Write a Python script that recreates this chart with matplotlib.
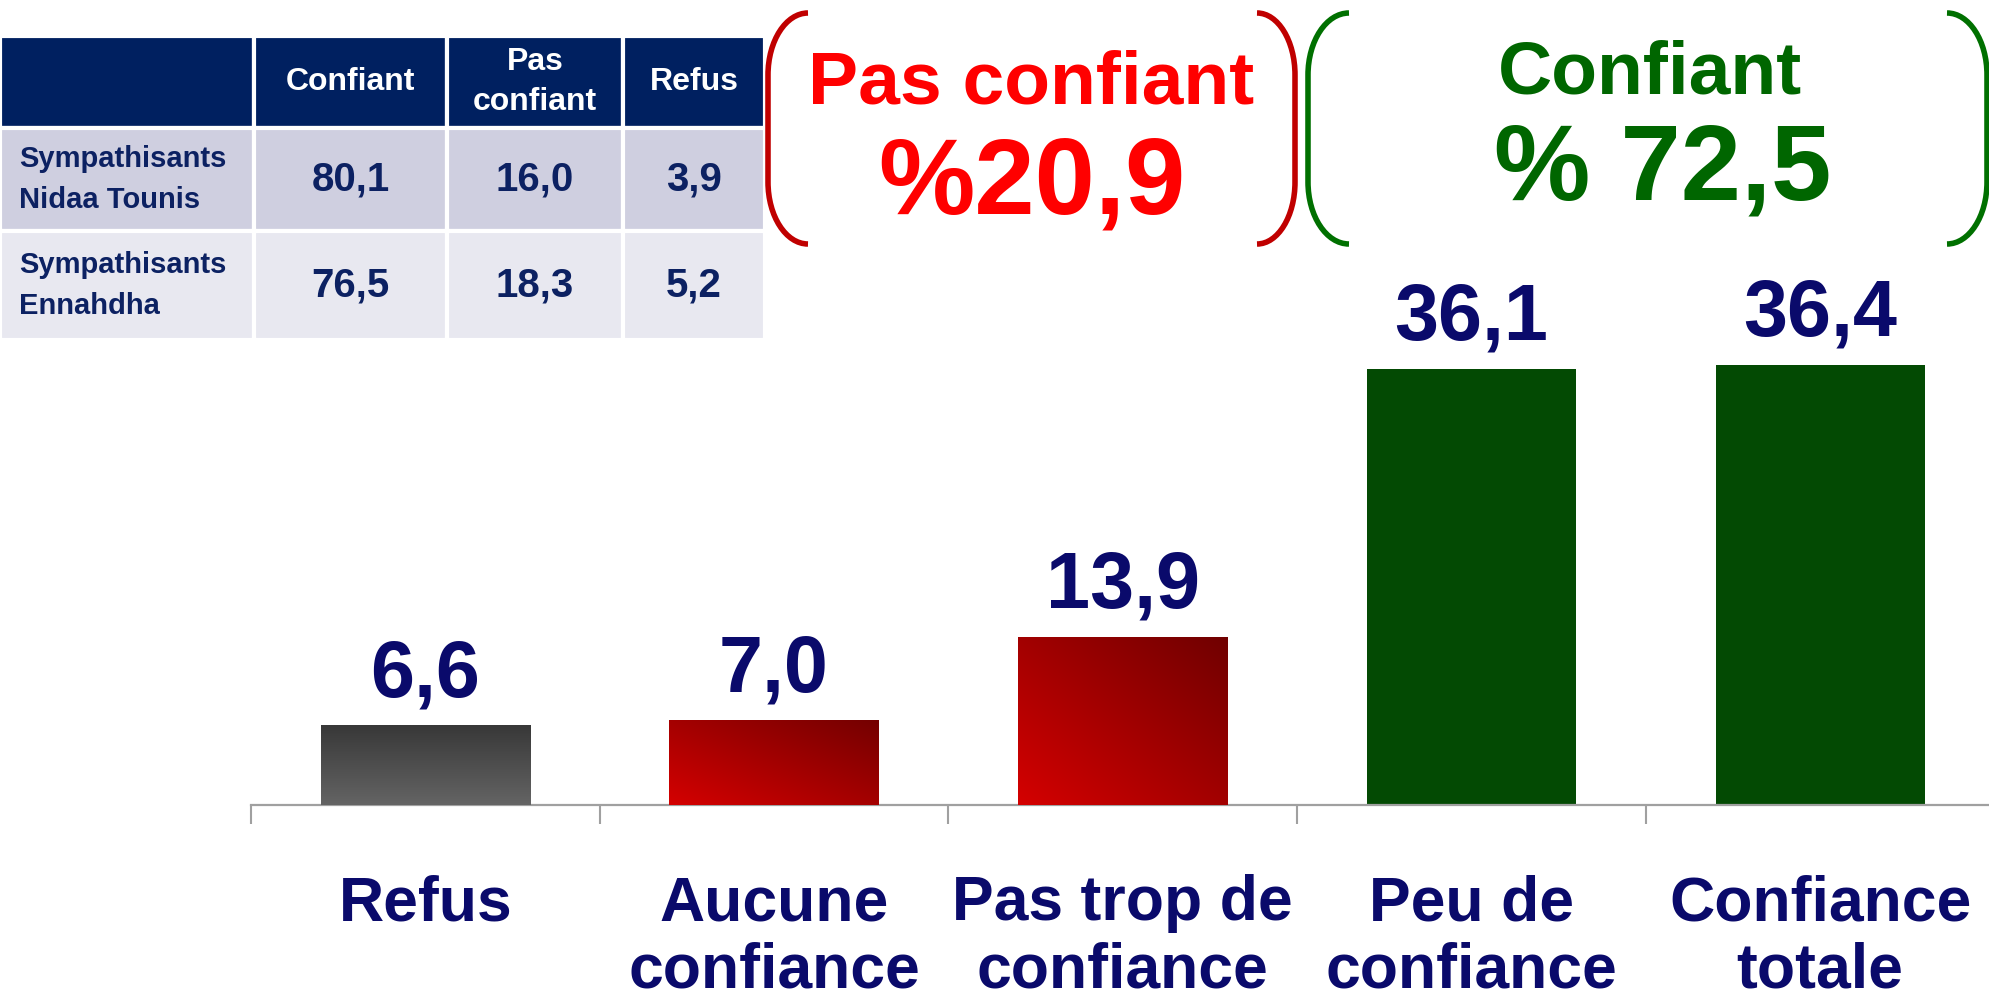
import matplotlib

matplotlib.use("Agg")
import matplotlib.pyplot as plt
import numpy as np
from matplotlib.colors import to_rgb
from matplotlib.patches import PathPatch
from matplotlib.path import Path

plt.rcParams["font.family"] = ["Liberation Sans", "DejaVu Sans"]
plt.rcParams["font.weight"] = "bold"

# bar chart data
categories = ["Refus", "Aucune\nconfiance", "Pas trop de\nconfiance", "Peu de\nconfiance", "Confiance\ntotale"]
values = [6.6, 7.0, 13.9, 36.1, 36.4]

# group totals shown in brackets
group_names = ["Pas confiant", "Confiant"]
group_labels = ["%20,9", "% 72,5"]

# table data
table_cols = ["Confiant", "Pas\nconfiant", "Refus"]
table_rows = ["Sympathisants\nNidaa Tounis", "Sympathisants\nEnnahdha"]
nidaa = [80.1, 16.0, 3.9]
ennahdha = [76.5, 18.3, 5.2]

NAVY = "#0a0a6b"
W_PX, H_PX = 1990, 1000


def fmt(v):
    return f"{v:.1f}".replace(".", ",")


def px(x, y):
    # pixel position (from top-left) -> figure fraction
    return x / W_PX, 1 - y / H_PX


def bracket(fig, x_outer, x_tip, y_top, y_bot, color, curve=62):
    k = 0.5523
    w = x_tip - x_outer
    pts = [
        (x_tip, y_top),
        (x_tip - k * w, y_top),
        (x_outer, y_top + curve - k * curve),
        (x_outer, y_top + curve),
        (x_outer, y_bot - curve),
        (x_outer, y_bot - curve + k * curve),
        (x_tip - k * w, y_bot),
        (x_tip, y_bot),
    ]
    codes = [Path.MOVETO, Path.CURVE4, Path.CURVE4, Path.CURVE4,
             Path.LINETO, Path.CURVE4, Path.CURVE4, Path.CURVE4]
    path = Path([px(x, y) for x, y in pts], codes)
    fig.patches.append(PathPatch(path, transform=fig.transFigure, fill=False,
                                 edgecolor=color, linewidth=4, capstyle="butt"))


def gradient_fill(ax, bar, c0, c1, diagonal):
    x0, y0 = bar.get_x(), bar.get_y()
    x1, y1 = x0 + bar.get_width(), y0 + bar.get_height()
    n = 80
    u, v = np.meshgrid(np.linspace(0, 1, n), np.linspace(0, 1, n))
    t = (u + v) / 2 if diagonal else v
    a, b = np.array(to_rgb(c0)), np.array(to_rgb(c1))
    img = a + (b - a) * t[..., None]
    im = ax.imshow(img, extent=(x0, x1, y0, y1), origin="lower", aspect="auto",
                   interpolation="bilinear", zorder=3)
    im.set_clip_path(bar)


fig = plt.figure(figsize=(19.9, 10), dpi=100)

# ---- bars ----
ax = fig.add_axes([251 / W_PX, 0.195, 5 * 348.7 / W_PX, 0.55])
x = np.arange(len(values))
colors = ["#4a4a4a", "#b00000", "#b00000", "#034a03", "#034a03"]
bars = ax.bar(x, values, width=0.6, color=colors, zorder=2)
gradient_fill(ax, bars[0], "#646464", "#383838", diagonal=False)
gradient_fill(ax, bars[1], "#d40000", "#740000", diagonal=True)
gradient_fill(ax, bars[2], "#d40000", "#700000", diagonal=True)

for xi, v in zip(x, values):
    ax.annotate(fmt(v), (xi, v), xytext=(0, 21), textcoords="offset points",
                ha="center", va="baseline", fontsize=57, fontweight="bold", color=NAVY)

ax.set_xlim(-0.5, 4.5)
ax.set_ylim(0, 45.5)
for side in ["top", "left", "right"]:
    ax.spines[side].set_visible(False)
ax.spines["bottom"].set_color("#a0a0a0")
ax.spines["bottom"].set_linewidth(1.6)
ax.set_yticks([])
ax.set_xticks(x)
ax.set_xticklabels(categories, fontsize=45, fontweight="bold", color=NAVY, linespacing=1.17)
ax.set_xticks(np.arange(-0.5, 4.6, 1), minor=True)
ax.tick_params(axis="x", which="major", length=0, pad=50)
ax.tick_params(axis="x", which="minor", length=14, width=1.5, color="#a0a0a0")

# ---- brackets with group totals ----
bracket(fig, 768, 808, 13, 244, "#c00000")
bracket(fig, 1295, 1257, 13, 244, "#c00000")
bracket(fig, 1308, 1349, 13, 244, "#007000")
bracket(fig, 1987, 1947, 13, 244, "#007000")

fig.text(*px(1031, 104), group_names[0], ha="center", va="baseline",
         fontsize=54, fontweight="bold", color="#ff0000")
fig.text(*px(1032, 213), group_labels[0], ha="center", va="baseline",
         fontsize=78, fontweight="bold", color="#ff0000")
fig.text(*px(1650, 93), group_names[1], ha="center", va="baseline",
         fontsize=54, fontweight="bold", color="#006600")
fig.text(*px(1663, 200), group_labels[1], ha="center", va="baseline",
         fontsize=78, fontweight="bold", color="#006600")

# ---- table ----
tax = fig.add_axes([0, 1 - 340 / H_PX, 765 / W_PX, (340 - 35.5) / H_PX])
tax.axis("off")
cell_text = [[""] + table_cols,
             [table_rows[0]] + [fmt(v) for v in nidaa],
             [table_rows[1]] + [fmt(v) for v in ennahdha]]
col_w = [254, 193, 176, 142]
row_h = [92.5, 103, 109]
row_bg = ["#002060", "#cfcfe0", "#e8e8f0"]
tbl = tax.table(cellText=cell_text, colWidths=[w / sum(col_w) for w in col_w],
                cellLoc="center", bbox=[0, 0, 1, 1])
tbl.auto_set_font_size(False)
for (r, c), cell in tbl.get_celld().items():
    cell.set_height(row_h[r])
    cell.set_facecolor(row_bg[r])
    cell.set_edgecolor("white")
    cell.set_linewidth(3)
    txt = cell.get_text()
    txt.set_fontweight("bold")
    if r == 0:
        txt.set_color("white")
        txt.set_fontsize(23)
        txt.set_linespacing(1.45)
    elif c == 0:
        cell.set_text_props(ha="left")
        cell.PAD = 0.075
        txt.set_color("#0c2162")
        txt.set_fontsize(21)
        txt.set_linespacing(1.55)
    else:
        txt.set_color("#0c2162")
        txt.set_fontsize(29)

fig.savefig("out.png", dpi=100)
